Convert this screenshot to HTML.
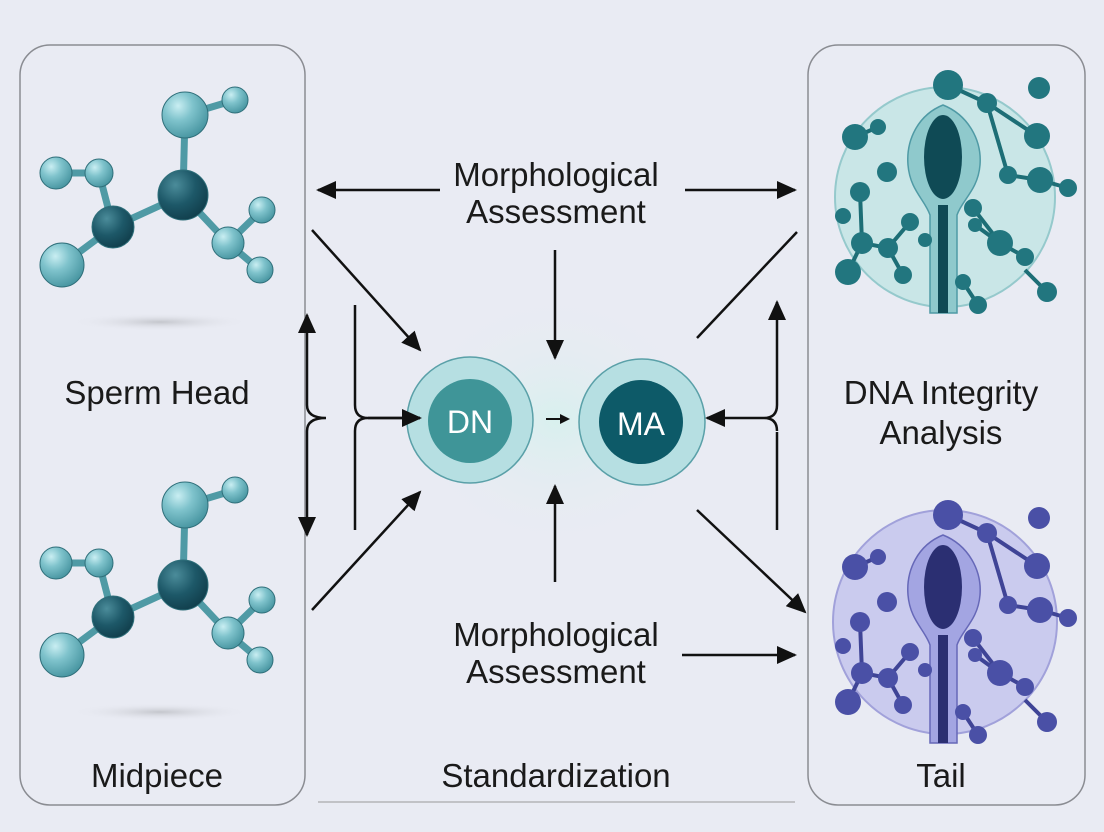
<!DOCTYPE html>
<html><head><meta charset="utf-8"><style>
html,body{margin:0;padding:0;background:#e9ebf3;}
svg{display:block;}
text{font-family:"Liberation Sans","DejaVu Sans",sans-serif;fill:#1a1a1a;}
</style></head><body>
<svg width="1104" height="832" viewBox="0 0 1104 832" xmlns="http://www.w3.org/2000/svg">
<defs>
<radialGradient id="lt" cx="0.35" cy="0.3" r="0.8"><stop offset="0" stop-color="#c9eef2"/><stop offset="0.4" stop-color="#7fc3cc"/><stop offset="1" stop-color="#3f8e9a"/></radialGradient>
<radialGradient id="dk" cx="0.35" cy="0.3" r="0.8"><stop offset="0" stop-color="#4b8c9a"/><stop offset="0.5" stop-color="#1d5868"/><stop offset="1" stop-color="#0f3a47"/></radialGradient>
<radialGradient id="glow" cx="0.5" cy="0.5" r="0.5"><stop offset="0" stop-color="#d8f0ee"/><stop offset="1" stop-color="#e9ebf3" stop-opacity="0"/></radialGradient>
<radialGradient id="sh" cx="0.5" cy="0.5" r="0.5"><stop offset="0" stop-color="#c4c6cc"/><stop offset="1" stop-color="#e9ebf3" stop-opacity="0"/></radialGradient>
<marker id="ah" markerWidth="10" markerHeight="10" refX="8" refY="5" orient="auto" markerUnits="userSpaceOnUse" viewBox="0 0 10 10"><path d="M0,0 L10,5 L0,10 z" fill="#111"/></marker>
<marker id="ahb" markerWidth="20" markerHeight="18" refX="18" refY="9" orient="auto" markerUnits="userSpaceOnUse" viewBox="0 0 20 18"><path d="M0,0 L20,9 L0,18 z" fill="#111"/></marker>
<g id="mol">
<ellipse cx="160" cy="322" rx="90" ry="9" fill="url(#sh)"/>
<g stroke="#4f9aa5" stroke-width="7" stroke-linecap="round">
<line x1="185" y1="115" x2="235" y2="100"/><line x1="185" y1="115" x2="183" y2="195"/><line x1="183" y1="195" x2="113" y2="227"/>
<line x1="113" y1="227" x2="99" y2="173"/><line x1="99" y1="173" x2="56" y2="173"/><line x1="113" y1="227" x2="62" y2="265"/>
<line x1="183" y1="195" x2="228" y2="243"/><line x1="228" y1="243" x2="262" y2="210"/><line x1="228" y1="243" x2="260" y2="270"/>
</g>
<g stroke="#2f6f7a" stroke-width="1">
<circle cx="185" cy="115" r="23" fill="url(#lt)"/><circle cx="235" cy="100" r="13" fill="url(#lt)"/>
<circle cx="56" cy="173" r="16" fill="url(#lt)"/><circle cx="99" cy="173" r="14" fill="url(#lt)"/>
<circle cx="62" cy="265" r="22" fill="url(#lt)"/><circle cx="228" cy="243" r="16" fill="url(#lt)"/>
<circle cx="262" cy="210" r="13" fill="url(#lt)"/><circle cx="260" cy="270" r="13" fill="url(#lt)"/>
<circle cx="183" cy="195" r="25" fill="url(#dk)"/><circle cx="113" cy="227" r="21" fill="url(#dk)"/>
</g>
</g>
<g id="bonds">
<path d="M948,85 L987,103 L1037,136 M987,103 L1008,175 L1040,180 L1068,188 M878,127 L855,137 M860,192 L862,243 L888,248 L910,222 M862,243 L848,272 M888,248 L903,275 M973,208 L1000,243 M975,225 L1000,243 L1025,257 M963,282 L978,305 M1025,270 L1047,292" fill="none" stroke-width="4"/>
</g>
<g id="atoms">
<circle cx="948" cy="85" r="15"/><circle cx="987" cy="103" r="10"/><circle cx="1039" cy="88" r="11"/><circle cx="1037" cy="136" r="13"/>
<circle cx="1008" cy="175" r="9"/><circle cx="1040" cy="180" r="13"/><circle cx="1068" cy="188" r="9"/><circle cx="855" cy="137" r="13"/>
<circle cx="878" cy="127" r="8"/><circle cx="887" cy="172" r="10"/><circle cx="860" cy="192" r="10"/><circle cx="843" cy="216" r="8"/>
<circle cx="862" cy="243" r="11"/><circle cx="848" cy="272" r="13"/><circle cx="888" cy="248" r="10"/><circle cx="910" cy="222" r="9"/>
<circle cx="903" cy="275" r="9"/><circle cx="925" cy="240" r="7"/><circle cx="973" cy="208" r="9"/><circle cx="975" cy="225" r="7"/>
<circle cx="1000" cy="243" r="13"/><circle cx="1025" cy="257" r="9"/><circle cx="963" cy="282" r="8"/><circle cx="978" cy="305" r="9"/><circle cx="1047" cy="292" r="10"/>
</g>
</defs>

<rect x="20" y="45" width="285" height="760" rx="30" fill="#e9ebf3" stroke="#8a8c92" stroke-width="1.5"/>
<rect x="808" y="45" width="277" height="760" rx="30" fill="#e9ebf3" stroke="#8a8c92" stroke-width="1.5"/>
<line x1="318" y1="802" x2="795" y2="802" stroke="#999" stroke-width="1"/>

<use href="#mol"/>
<use href="#mol" transform="translate(0,390)"/>

<circle cx="945" cy="197" r="110" fill="#c6e6e6" stroke="#8cc6c8" stroke-width="2" opacity="0.9"/>
<path d="M943,105 C918,115 906,140 908,165 C910,190 925,200 930,215 L930,313 L957,313 L957,215 C962,200 978,190 980,165 C982,140 968,115 943,105 Z" fill="#8fc9cc" stroke="#4f9aa5" stroke-width="1.5"/>
<ellipse cx="943" cy="157" rx="19" ry="42" fill="#0f4a55"/>
<rect x="938" y="205" width="10" height="108" fill="#0f4a55"/>
<use href="#bonds" stroke="#1d6e76"/>
<use href="#atoms" fill="#22767f"/>

<circle cx="945" cy="622" r="112" fill="#c7c8ee" stroke="#9a9ad8" stroke-width="2" opacity="0.9"/>
<g transform="translate(0,430)">
<path d="M943,105 C918,115 906,140 908,165 C910,190 925,200 930,215 L930,313 L957,313 L957,215 C962,200 978,190 980,165 C982,140 968,115 943,105 Z" fill="#a3a5e2" stroke="#6668b8" stroke-width="1.5"/>
<ellipse cx="943" cy="157" rx="19" ry="42" fill="#2b2f72"/>
<rect x="938" y="205" width="10" height="108" fill="#2b2f72"/>
<use href="#bonds" stroke="#3f4496"/>
<use href="#atoms" fill="#4a50a6"/>
</g>

<ellipse cx="556" cy="420" rx="150" ry="130" fill="url(#glow)"/>
<circle cx="470" cy="420" r="63" fill="#b6dfe2" stroke="#5aa0a8" stroke-width="1.5"/>
<circle cx="470" cy="421" r="42" fill="#3f9598"/>
<text x="470" y="433" font-size="32" text-anchor="middle" style="fill:#fff">DN</text>
<circle cx="642" cy="422" r="63" fill="#b6dfe2" stroke="#5aa0a8" stroke-width="1.5"/>
<circle cx="641" cy="422" r="42" fill="#0d5a68"/>
<text x="641" y="435" font-size="32" text-anchor="middle" style="fill:#fff">MA</text>
<line x1="546" y1="419" x2="568" y2="419" stroke="#111" stroke-width="2" marker-end="url(#ah)"/>

<g stroke="#111" stroke-width="2.5" fill="none">
<line x1="440" y1="190" x2="318" y2="190" marker-end="url(#ahb)"/>
<line x1="685" y1="190" x2="795" y2="190" marker-end="url(#ahb)"/>
<line x1="555" y1="250" x2="555" y2="358" marker-end="url(#ahb)"/>
<line x1="555" y1="582" x2="555" y2="486" marker-end="url(#ahb)"/>
<line x1="312" y1="230" x2="420" y2="350" marker-end="url(#ahb)"/>
<line x1="312" y1="610" x2="420" y2="492" marker-end="url(#ahb)"/>
<line x1="697" y1="338" x2="797" y2="232"/>
<line x1="697" y1="510" x2="805" y2="612" marker-end="url(#ahb)"/>
<line x1="682" y1="655" x2="795" y2="655" marker-end="url(#ahb)"/>
<line x1="307" y1="370" x2="307" y2="315" marker-end="url(#ahb)"/>
<line x1="307" y1="470" x2="307" y2="535" marker-end="url(#ahb)"/>
<path d="M307,370 L307,405 Q307,418 326,418 Q307,418 307,431 L307,470"/>
<path d="M355,305 L355,405 Q355,418 368,418 L420,418 M368,418 Q355,418 355,431 L355,530" />
<line x1="368" y1="418" x2="420" y2="418" marker-end="url(#ahb)"/>
<line x1="777" y1="530" x2="777" y2="432"/>
<line x1="777" y1="405" x2="777" y2="302" marker-end="url(#ahb)"/>
<path d="M777,405 Q777,418 764,418 Q777,418 777,431"/>
<line x1="764" y1="418" x2="707" y2="418" marker-end="url(#ahb)"/>
</g>

<g font-size="33" text-anchor="middle">
<text x="556" y="186">Morphological</text>
<text x="556" y="223">Assessment</text>
<text x="556" y="646">Morphological</text>
<text x="556" y="683">Assessment</text>
<text x="157" y="404">Sperm Head</text>
<text x="941" y="404">DNA Integrity</text>
<text x="941" y="444">Analysis</text>
<text x="157" y="787">Midpiece</text>
<text x="556" y="787">Standardization</text>
<text x="941" y="787">Tail</text>
</g>
</svg>
</body></html>
